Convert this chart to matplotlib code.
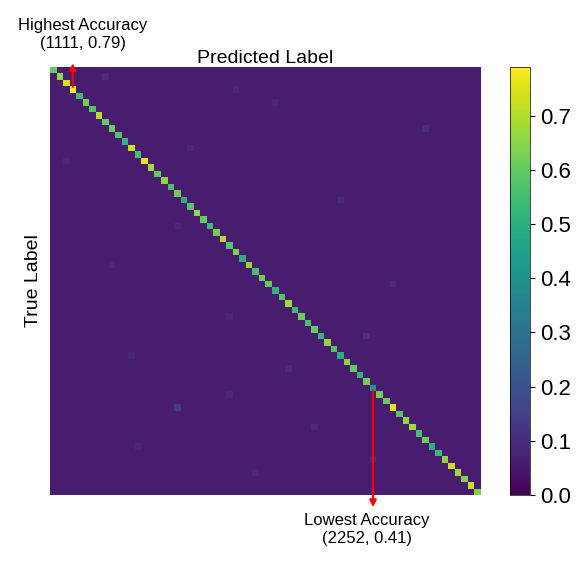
import numpy as np
import matplotlib.pyplot as plt

plt.rcParams['font.family'] = ['Liberation Sans', 'DejaVu Sans']

# diagonal accuracy per class (66 classes)
diag = [0.60, 0.66, 0.74, 0.79, 0.55, 0.62, 0.58, 0.70, 0.60, 0.62,
        0.58, 0.52, 0.72, 0.55, 0.76, 0.68, 0.60, 0.66, 0.56, 0.62,
        0.50, 0.58, 0.66, 0.60, 0.54, 0.62, 0.70, 0.58, 0.64, 0.50,
        0.66, 0.56, 0.62, 0.60, 0.52, 0.58, 0.68, 0.54, 0.62, 0.56,
        0.60, 0.52, 0.66, 0.58, 0.50, 0.64, 0.60, 0.52, 0.62, 0.41,
        0.62, 0.60, 0.76, 0.58, 0.66, 0.68, 0.56, 0.62, 0.50, 0.54,
        0.66, 0.72, 0.68, 0.64, 0.72, 0.64]
base_level = 0.06
# a few noticeable off-diagonal confusions (row, col, value)
off_row = [1, 3, 5, 9, 12, 14, 20, 24, 30, 33, 38, 41, 44, 46, 50, 52, 55, 58, 60, 62]
off_col = [8, 28, 34, 57, 21, 2, 44, 19, 9, 52, 27, 48, 12, 36, 27, 19, 40, 13, 49, 31]
off_val = [0.10, 0.09, 0.09, 0.11, 0.09, 0.09, 0.10, 0.09, 0.09, 0.10,
           0.09, 0.12, 0.09, 0.10, 0.09, 0.13, 0.10, 0.09, 0.10, 0.09]

n = len(diag)
cm = np.full((n, n), base_level)
cm[off_row, off_col] = off_val
cm[np.arange(n), np.arange(n)] = diag

fig = plt.figure(figsize=(5.87, 5.68), dpi=100)
ax = fig.add_axes([0.085, 0.1285, 0.734, 0.7535])
cax = fig.add_axes([0.869, 0.1285, 0.034, 0.7535])

im = ax.imshow(cm, cmap='viridis', vmin=0, vmax=0.79, aspect='auto')
ax.set_xticks([]); ax.set_yticks([])
for s in ax.spines.values():
    s.set_visible(False)
ax.set_title('Predicted Label', fontsize=14, pad=2)
ax.set_ylabel('True Label', fontsize=14, labelpad=6)

cb = fig.colorbar(im, cax=cax, ticks=np.arange(0, 0.71, 0.1))
cb.ax.tick_params(labelsize=16)
cb.outline.set_linewidth(0.5)

hi = int(np.argmax(diag)); lo = int(np.argmin(diag))
ax.annotate('', xy=(hi, -1.5), xytext=(hi, hi),
            arrowprops=dict(arrowstyle='-|>', color='red', lw=1.5), annotation_clip=False)
ax.text(hi + 1.5, -3.0, 'Highest Accuracy\n(1111, %.2f)' % diag[hi], ha='center', va='bottom',
        fontsize=12)
ax.annotate('', xy=(lo, n + 1.8), xytext=(lo, lo),
            arrowprops=dict(arrowstyle='-|>', color='red', lw=1.5), annotation_clip=False)
ax.text(lo - 1, n + 2.3, 'Lowest Accuracy\n(2252, %.2f)' % diag[lo], ha='center', va='top',
        fontsize=12)

fig.savefig('out.png', dpi=100)
